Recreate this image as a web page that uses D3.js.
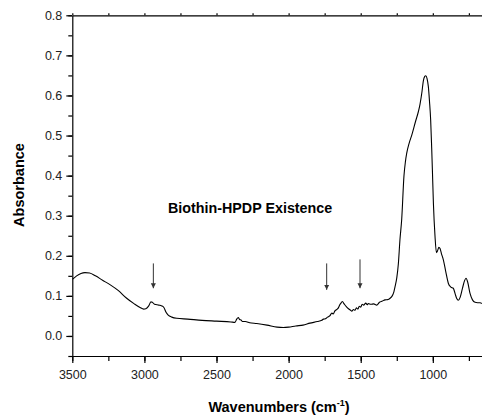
<!DOCTYPE html>
<html>
<head>
<meta charset="utf-8">
<script src="https://cdn.jsdelivr.net/npm/d3@7"></script>
<style>
  body { margin: 0; background: #fff; }
  svg { display: block; font-family: "Liberation Sans", Arial, sans-serif; }
  .axis text { font-size: 12.5px; fill: #222; }
  .axis path, .axis line { stroke: #000; stroke-width: 1.2; }
</style>
</head>
<body>
<svg width="482" height="418"></svg>
<script>
// spectrum (wavenumber cm-1, absorbance)
const wavenumbers = [3500, 3470, 3440, 3412, 3380, 3340, 3290, 3239, 3180, 3123, 3070, 3030, 3005, 2990, 2970, 2955, 2945, 2930, 2900, 2880, 2865, 2850, 2835, 2810, 2776, 2700, 2600, 2500, 2400, 2372, 2360, 2349, 2340, 2330, 2320, 2300, 2270, 2221, 2150, 2080, 2037, 2000, 1950, 1900, 1852, 1800, 1770, 1759, 1745, 1730, 1715, 1700, 1690, 1680, 1666, 1655, 1645, 1635, 1627, 1615, 1600, 1585, 1570, 1562, 1550, 1540, 1530, 1520, 1510, 1500, 1490, 1480, 1465, 1455, 1447, 1430, 1410, 1389, 1370, 1350, 1332, 1310, 1297, 1285, 1270, 1262, 1250, 1239, 1228, 1216, 1200, 1190, 1181, 1165, 1146, 1120, 1100, 1089, 1075, 1066, 1057, 1049, 1040, 1031, 1023, 1015, 1008, 1003, 996, 985, 975, 968, 958, 950, 940, 927, 910, 892, 875, 858, 845, 835, 823, 810, 795, 780, 770, 758, 742, 725, 707, 690, 672, 660];
const absorbance = [0.141, 0.150, 0.156, 0.158, 0.157, 0.150, 0.139, 0.128, 0.113, 0.094, 0.080, 0.071, 0.067, 0.068, 0.075, 0.085, 0.084, 0.079, 0.077, 0.075, 0.071, 0.059, 0.052, 0.047, 0.044, 0.042, 0.039, 0.037, 0.035, 0.034, 0.042, 0.046, 0.041, 0.040, 0.036, 0.036, 0.033, 0.031, 0.027, 0.022, 0.021, 0.022, 0.025, 0.027, 0.032, 0.036, 0.039, 0.042, 0.043, 0.047, 0.050, 0.057, 0.055, 0.062, 0.066, 0.070, 0.078, 0.083, 0.086, 0.080, 0.073, 0.068, 0.064, 0.062, 0.066, 0.064, 0.070, 0.067, 0.074, 0.072, 0.079, 0.077, 0.082, 0.078, 0.081, 0.079, 0.080, 0.077, 0.084, 0.087, 0.090, 0.091, 0.094, 0.098, 0.110, 0.123, 0.145, 0.180, 0.240, 0.290, 0.400, 0.435, 0.456, 0.480, 0.501, 0.535, 0.560, 0.578, 0.610, 0.636, 0.647, 0.649, 0.642, 0.622, 0.585, 0.539, 0.470, 0.414, 0.331, 0.250, 0.208, 0.212, 0.221, 0.218, 0.205, 0.190, 0.160, 0.131, 0.122, 0.119, 0.105, 0.094, 0.089, 0.097, 0.118, 0.138, 0.144, 0.134, 0.106, 0.090, 0.084, 0.083, 0.083, 0.081];

const xTicks = [3500, 3000, 2500, 2000, 1500, 1000];
const yTicks = [0.0, 0.1, 0.2, 0.3, 0.4, 0.5, 0.6, 0.7, 0.8];

// arrows marking the bands
const arrowWn = [2938, 1736, 1505];
const arrowTop = [0.181, 0.181, 0.191];
const arrowBottom = [0.119, 0.115, 0.119];

const svg = d3.select('svg');
const mLeft = 72.3, mRight = 483.3, mTop = 15.3, mBottom = 356;

const x = d3.scaleLinear().domain([3500, 650]).range([mLeft, mRight]);
const y = d3.scaleLinear().domain([-0.05, 0.8]).range([mBottom, mTop]);

// minor ticks
const xMinor = d3.range(3500, 640, -250);
const yMinor = d3.range(-0.05, 0.801, 0.05);

svg.append('g').attr('class', 'axis')
  .attr('transform', `translate(0,${mBottom})`)
  .call(d3.axisBottom(x).tickValues(xMinor).tickSize(5).tickFormat(''))
  .call(g => g.select('.domain').remove());

svg.append('g').attr('class', 'axis')
  .attr('transform', `translate(0,${mBottom})`)
  .call(d3.axisBottom(x).tickValues(xTicks).tickSize(7).tickPadding(7).tickSizeOuter(0).tickFormat(d3.format('d')));

svg.append('g').attr('class', 'axis')
  .attr('transform', `translate(0,${mTop})`)
  .call(d3.axisTop(x).tickValues(xMinor).tickSize(2).tickSizeOuter(0).tickFormat(''));

svg.append('g').attr('class', 'axis')
  .attr('transform', `translate(${mLeft},0)`)
  .call(d3.axisLeft(y).tickValues(yMinor).tickSize(4).tickFormat(''))
  .call(g => g.select('.domain').remove());

svg.append('g').attr('class', 'axis')
  .attr('transform', `translate(${mLeft},0)`)
  .call(d3.axisLeft(y).tickValues(yTicks).tickSize(6).tickPadding(4).tickSizeOuter(0).tickFormat(d3.format('.1f')));

// spectrum
svg.append('clipPath').attr('id', 'clip')
  .append('rect').attr('x', mLeft).attr('y', mTop).attr('width', mRight - mLeft).attr('height', mBottom - mTop);

const line = d3.line()
  .x(d => x(d[0]))
  .y(d => y(d[1]))
  .curve(d3.curveMonotoneX);

svg.append('path')
  .datum(d3.zip(wavenumbers, absorbance))
  .attr('clip-path', 'url(#clip)')
  .attr('fill', 'none')
  .attr('stroke', '#000')
  .attr('stroke-width', 1.1)
  .attr('d', line);

// arrows
svg.append('defs').append('marker')
  .attr('id', 'head')
  .attr('viewBox', '0 0 10 10')
  .attr('refX', 10).attr('refY', 5)
  .attr('markerWidth', 5).attr('markerHeight', 6)
  .attr('markerUnits', 'userSpaceOnUse')
  .attr('orient', 'auto')
  .append('path').attr('d', 'M0,0L10,5L0,10Z').attr('fill', '#333');

svg.selectAll('.arrow')
  .data(arrowWn)
  .enter()
  .append('line')
  .attr('class', 'arrow')
  .attr('x1', d => x(d)).attr('x2', d => x(d))
  .attr('y1', (d, i) => y(arrowTop[i]))
  .attr('y2', (d, i) => y(arrowBottom[i]))
  .attr('stroke', '#333')
  .attr('stroke-width', 1)
  .attr('marker-end', 'url(#head)');

// texts
svg.append('text')
  .attr('x', 168).attr('y', 213)
  .attr('font-size', 14.3).attr('font-weight', 'bold')
  .text('Biothin-HPDP Existence');

svg.append('text')
  .attr('transform', 'translate(24,185) rotate(-90)')
  .attr('text-anchor', 'middle')
  .attr('font-size', 14.5).attr('font-weight', 'bold')
  .text('Absorbance');

const xl = svg.append('text')
  .attr('x', 279).attr('y', 412)
  .attr('text-anchor', 'middle')
  .attr('font-size', 14.5).attr('font-weight', 'bold');
xl.append('tspan').text('Wavenumbers (cm');
xl.append('tspan').attr('font-size', 9).attr('dy', -6).text('-1');
xl.append('tspan').attr('dy', 6).text(')');
</script>
</body>
</html>
